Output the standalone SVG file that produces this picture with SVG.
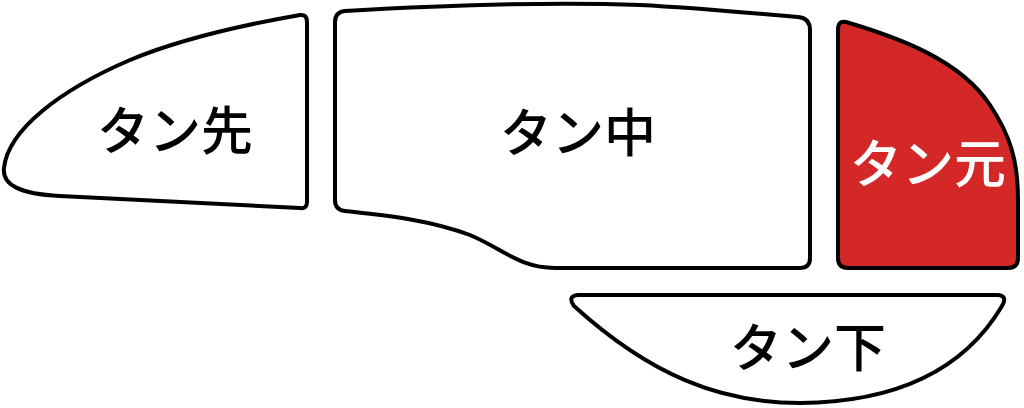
<svg xmlns="http://www.w3.org/2000/svg" width="1024" height="408" viewBox="0 0 1024 408">
<style>
.part{fill:#ffffff;stroke:#000000;stroke-width:4;stroke-linejoin:round}
.red{fill:#d42828}
.lbl{font-family:"Noto Sans CJK JP","Noto Sans",sans-serif;font-size:52px;font-weight:500;text-anchor:middle;fill:#000000}
.wh{fill:#ffffff}
</style>
<rect width="1024" height="408" fill="#ffffff"/>
<g id="tan-saki">
<path class="part" d="M 300 15 Q 307 14 307 22 L 307 202 Q 307 209 300 208 L 60 196 C 20 194 2 185 4 168 C 8 130 60 90 130 60 C 190 35 260 22 300 15 Z"/>
<text class="lbl" x="175" y="150">タン先</text>
</g>
<g id="tan-naka">
<path class="part" d="M 345 11 C 450 5 560 2 640 5 C 700 8 760 14 798 17 Q 810 18 810 30 L 810 258 Q 810 268 800 268 L 555 268 C 520 268 505 250 470 235 C 430 220 390 216 345 211 Q 335 210 335 200 L 335 22 Q 335 12 345 11 Z"/>
<text class="lbl" x="578" y="152">タン中</text>
</g>
<g id="tan-moto">
<path class="part red" d="M 846 22 C 900 38 960 60 990 105 C 1010 135 1018 160 1018 200 L 1018 258 Q 1018 268 1008 268 L 848 268 Q 838 268 838 258 L 838 30 Q 838 20 846 22 Z"/>
<text class="lbl wh" x="928" y="183">タン元</text>
</g>
<g id="tan-shita">
<path class="part" d="M 578 295 L 998 295 Q 1008 296 1002 306 C 970 360 910 402 800 403 C 720 403 650 375 574 306 Q 567 296 578 295 Z"/>
<text class="lbl" x="808" y="367">タン下</text>
</g>
<g id="connectors"/>
</svg>
